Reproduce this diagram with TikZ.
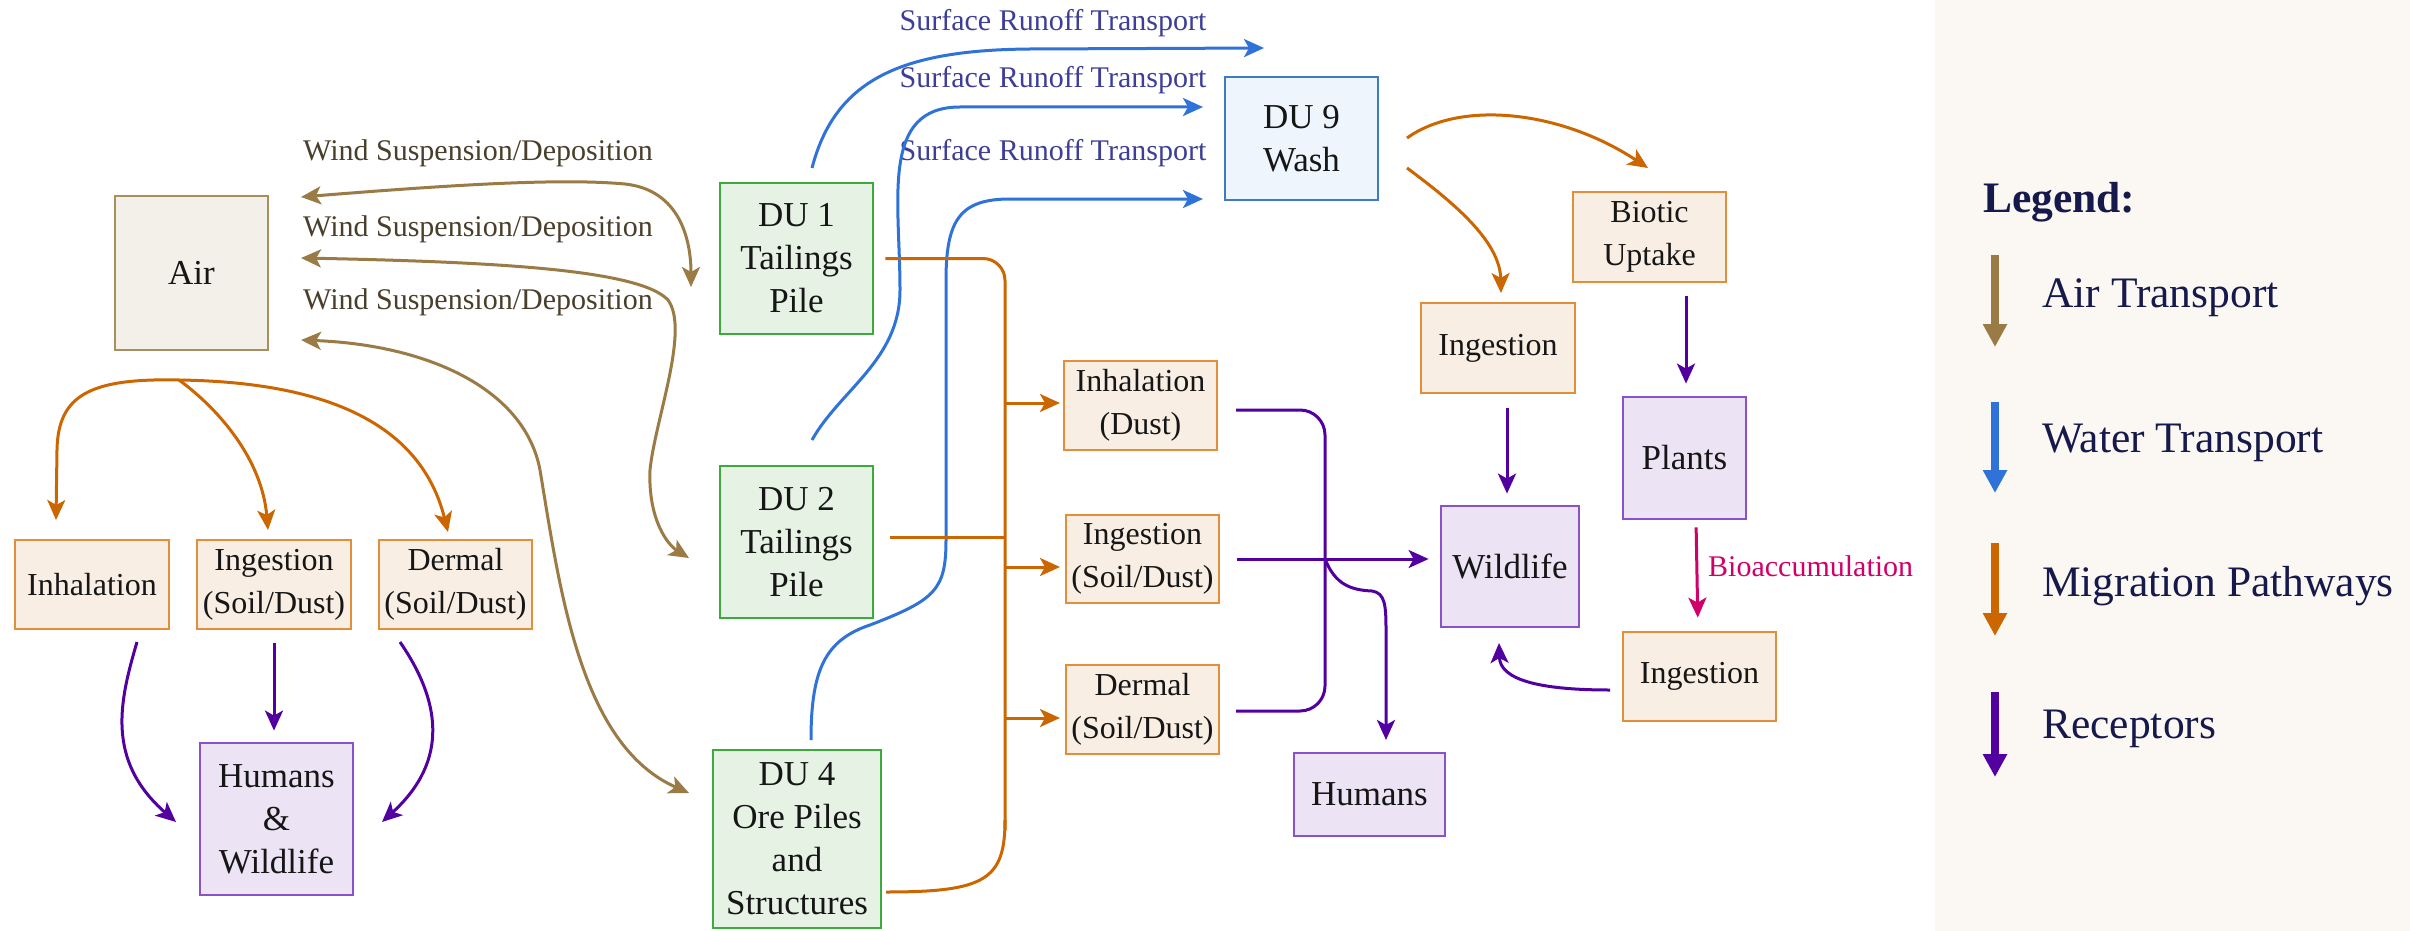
\documentclass[tikz,border=0pt]{standalone}
\usepackage{fontspec}
\setmainfont{Liberation Serif}
\usetikzlibrary{arrows.meta}
\definecolor{airc}{HTML}{9A7B45}
\definecolor{watc}{HTML}{2F73D8}
\definecolor{migc}{HTML}{CC6600}
\definecolor{recc}{HTML}{5200A0}
\definecolor{pinkc}{HTML}{D0006A}
\definecolor{grnb}{HTML}{3DAA3D}
\definecolor{grnf}{HTML}{E6F3E4}
\definecolor{orgb}{HTML}{E28E3A}
\definecolor{orgf}{HTML}{F9EEE3}
\definecolor{pplb}{HTML}{8A52C8}
\definecolor{pplf}{HTML}{ECE4F4}
\definecolor{airb}{HTML}{A88F5E}
\definecolor{airf}{HTML}{F3F0EA}
\definecolor{bluf}{HTML}{EEF5FD}
\definecolor{blub}{HTML}{3D7CC2}
\definecolor{legbg}{HTML}{FBF8F3}
\definecolor{legtx}{HTML}{16194B}
\definecolor{txtc}{HTML}{161616}
\definecolor{windtx}{HTML}{4A3F2C}
\definecolor{runtx}{HTML}{3E3E98}
\begin{document}
\begin{tikzpicture}[x=1pt,y=-1pt,
  >={Stealth[length=20pt,width=18pt,inset=5pt]},
  box/.style={rectangle, draw, line width=2.8pt, align=center, inner sep=0pt, text=txtc, font=\fontsize{35}{43}\selectfont},
  grn/.style={box, draw=grnb, fill=grnf},
  org/.style={box, draw=orgb, fill=orgf, font=\fontsize{32}{43}\selectfont},
  ppl/.style={box, draw=pplb, fill=pplf},
  airbox/.style={box, draw=airb, fill=airf},
  blubox/.style={box, draw=blub, fill=bluf},
  airarr/.style={draw=airc, line width=3pt, <->},
  wat/.style={draw=watc, line width=3pt, ->},
  mig/.style={draw=migc, line width=3pt},
  rec/.style={draw=recc, line width=3pt},
  windlbl/.style={font=\fontsize{30}{36}\selectfont, inner sep=0pt, text=windtx},
  runlbl/.style={font=\fontsize{30}{36}\selectfont, inner sep=0pt, text=runtx},
  legtext/.style={font=\fontsize{43.5}{52}\selectfont, inner sep=0pt, text=legtx, anchor=west},
  legarr/.style={line width=8pt, -{Triangle[length=23pt,width=23pt]}}
]
\useasboundingbox (0,0) rectangle (2410,931);
\fill[white] (0,0) rectangle (2410,931);
\fill[legbg] (1935,0) rectangle (2410,931);

% ---------- nodes ----------
\node[airbox, minimum width=153pt, minimum height=154pt] (air) at (191.5,273) {Air};
\node[grn, minimum width=153pt, minimum height=151pt] (du1) at (796.5,258.5) {DU 1\\Tailings\\Pile};
\node[grn, minimum width=153pt, minimum height=152pt] (du2) at (796.5,542) {DU 2\\Tailings\\Pile};
\node[grn, minimum width=168pt, minimum height=178pt] (du4) at (797,839) {DU 4\\Ore Piles\\and\\Structures};
\node[blubox, minimum width=153pt, minimum height=123pt] (du9) at (1301.5,138.5) {DU 9\\Wash};

\node[org, minimum width=154pt, minimum height=89pt] (inhL) at (92,584.5) {Inhalation};
\node[org, minimum width=154pt, minimum height=89pt] (ingL) at (274,584.5) {Ingestion\\(Soil/Dust)};
\node[org, minimum width=153pt, minimum height=89pt] (derL) at (455.5,584.5) {Dermal\\(Soil/Dust)};
\node[ppl, minimum width=153pt, minimum height=152pt] (hwL) at (276.5,819) {Humans\\\&\\Wildlife};

\node[org, minimum width=153pt, minimum height=89pt] (inhM) at (1140.5,405.5) {Inhalation\\(Dust)};
\node[org, minimum width=153pt, minimum height=88pt] (ingM) at (1142.5,559) {Ingestion\\(Soil/Dust)};
\node[org, minimum width=153pt, minimum height=89pt] (derM) at (1142.5,709.5) {Dermal\\(Soil/Dust)};
\node[ppl, minimum width=151pt, minimum height=83pt] (humM) at (1369.5,794.5) {Humans};

\node[ppl, minimum width=138pt, minimum height=121pt] (wild) at (1510,566.5) {Wildlife};
\node[org, minimum width=154pt, minimum height=90pt] (ingU) at (1498,348) {Ingestion};
\node[org, minimum width=153pt, minimum height=90pt] (bio) at (1649.5,237) {Biotic\\Uptake};
\node[ppl, minimum width=123pt, minimum height=122pt] (plants) at (1684.5,458) {Plants};
\node[org, minimum width=153pt, minimum height=89pt] (ingLo) at (1699.5,676.5) {Ingestion};

% ---------- labels ----------
\node[windlbl] (lw1) at (478,153) {Wind Suspension/Deposition};
\node[windlbl] (lw2) at (478,229) {Wind Suspension/Deposition};
\node[windlbl] (lw3) at (478,302) {Wind Suspension/Deposition};
\node[runlbl] (lr1) at (1053,23) {Surface Runoff Transport};
\node[runlbl] (lr2) at (1053,80) {Surface Runoff Transport};
\node[runlbl] (lr3) at (1053,153) {Surface Runoff Transport};
\node[font=\fontsize{30}{36}\selectfont, inner sep=0pt, text=pinkc, anchor=west] (lbio) at (1708,566) {Bioaccumulation};

% ---------- air transport (wind) ----------
\coordinate (w1a) at (301,197); \coordinate (w1b) at (691,287);
\coordinate (w2a) at (301,258); \coordinate (w2b) at (689,558);
\coordinate (w3a) at (301,340); \coordinate (w3b) at (689,793);
\draw[airarr] (w1a) .. controls (450,185) and (560,178) .. (625,184) .. controls (680,190) and (691,240) .. (w1b);
\draw[airarr] (w2a) .. controls (500,262) and (640,270) .. (668,300) .. controls (690,330) and (655,420) .. (650,470) .. controls (648,520) and (668,545) .. (w2b);
\draw[airarr] (w3a) .. controls (430,345) and (525,390) .. (540,470) .. controls (560,590) and (580,745) .. (w3b);

% ---------- water transport ----------
\coordinate (r1a) at (812,168); \coordinate (r1b) at (1264,48);
\coordinate (r2a) at (812,440); \coordinate (r2b) at (1203,107);
\coordinate (r3a) at (811,740); \coordinate (r3b) at (1203,199);
\draw[wat] (r1a) .. controls (835,80) and (900,50) .. (1030,49) -- (r1b);
\draw[wat] (r2a) .. controls (840,390) and (900,360) .. (900,290) .. controls (900,200) and (880,107) .. (960,107) -- (r2b);
\draw[wat] (r3a) .. controls (811,670) and (825,640) .. (870,625) .. controls (935,600) and (946,590) .. (946,540) -- (946,280) .. controls (946,220) and (960,199) .. (1010,199) -- (r3b);

% ---------- migration from Air ----------
\coordinate (airsplit) at (179,380);
\draw[mig,->] (airsplit) .. controls (90,378) and (58,395) .. (57,450) -- (56,520);
\draw[mig,->] (airsplit) .. controls (220,410) and (262,460) .. (268,530);
\draw[mig,->] (airsplit) .. controls (320,382) and (420,420) .. (448,532);

% ---------- receptors (left) ----------
\draw[rec,->] (137,642) .. controls (120,700) and (105,760) .. (176,822);
\draw[rec,->, shorten <=13pt, shorten >=11pt] (ingL.south) -- (ingL.south |- hwL.north);
\draw[rec,->] (400,642) .. controls (440,700) and (450,760) .. (382,822);

% ---------- migration trunk from DUs ----------
\coordinate (tTop) at (1005,258.5);
\coordinate (tBot) at (1005,830);
\draw[mig, rounded corners=22pt, shorten <=11pt] (du1.east) -- (tTop) -- (tBot);
\draw[mig, shorten <=16pt] (du2.east) ++(0,-5) -- (1005,537);
\draw[mig] (886,892) .. controls (985,892) and (1005,880) .. (1005,820);
\draw[mig,->] (1005,403) -- (1060,403);
\draw[mig,->] (1005,567) -- (1060,567);
\draw[mig,->] (1005,718) -- (1060,718);

% ---------- receptors (middle) ----------
\coordinate (pj) at (1325,559);
\draw[rec,->, shorten <=17pt, shorten >=11pt] (ingM.east) -- (ingM.east -| wild.west);
\draw[rec, rounded corners=25pt] (1236,410) -| (pj);
\draw[rec, rounded corners=25pt] (1236,711) -| (pj);
\draw[rec,->] (pj) .. controls (1335,584) and (1350,590) .. (1372,591) .. controls (1385,593) and (1386,605) .. (1386,630) -- (1386,740);

% ---------- right cluster ----------
\draw[mig,->] (1407,138) .. controls (1460,100) and (1560,110) .. (1648,168);
\draw[mig,->] (1407,168) .. controls (1450,200) and (1500,240) .. (1501,293);
\draw[rec,->, shorten <=14pt, shorten >=11pt] (ingU.south -| 1507,0) -- (wild.north -| 1507,0);
\draw[rec,->, shorten <=13pt, shorten >=12pt] (bio.south -| 1686,0) -- (plants.north -| 1686,0);
\draw[draw=pinkc, line width=3pt, ->, shorten <=7pt, shorten >=13pt] (plants.south -| 1696,0) -- (ingLo.north -| 1698,0);
\draw[rec,->] (1610,690) .. controls (1540,690) and (1500,680) .. (1499,643);

% ---------- legend ----------
\node[legtext, font=\fontsize{43.5}{52}\selectfont\bfseries] (legtitle) at (1983,202) {Legend:};
\coordinate (la1) at (1995,255); \coordinate (lb1) at (1995,347);
\coordinate (la2) at (1995,402); \coordinate (lb2) at (1995,493);
\coordinate (la3) at (1995,543); \coordinate (lb3) at (1995,636);
\coordinate (la4) at (1995,692); \coordinate (lb4) at (1995,777);
\draw[legarr, draw=airc, fill=airc] (la1) -- (lb1);
\draw[legarr, draw=watc, fill=watc] (la2) -- (lb2);
\draw[legarr, draw=migc, fill=migc] (la3) -- (lb3);
\draw[legarr, draw=recc, fill=recc] (la4) -- (lb4);
\node[legtext] (lt1) at (2042,298) {Air Transport};
\node[legtext] (lt2) at (2042,443) {Water Transport};
\node[legtext] (lt3) at (2042,586) {Migration Pathways};
\node[legtext] (lt4) at (2042,729) {Receptors};
\end{tikzpicture}
\end{document}
